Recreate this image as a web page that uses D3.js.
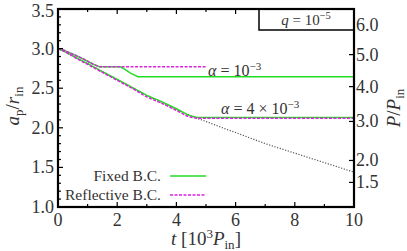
<!DOCTYPE html>
<html><head><meta charset="utf-8">
<script src="https://cdn.jsdelivr.net/npm/d3@7"></script>
<style>
html,body{margin:0;padding:0;background:#fff;}
svg{display:block;font-family:"Liberation Serif","Times New Roman",serif;}
</style></head>
<body><svg id="c" width="407" height="251"></svg>
<script>
// ---- data ----
const fixed1e3 = [[0,3.0],[0.2,2.98],[0.5,2.93],[0.8,2.88],[1.0,2.84],[1.2,2.80],[1.4,2.77],[2.1,2.77],[2.25,2.74],[2.45,2.69],[2.7,2.645],[10,2.645]];
const refl1e3 = [[0,3.0],[0.2,2.98],[0.5,2.93],[0.8,2.88],[1.0,2.84],[1.2,2.80],[1.4,2.77],[5.0,2.77]];
const fixed4e3 = [[0,3.0],[0.3,2.95],[0.6,2.89],[1.0,2.81],[1.5,2.71],[2.0,2.61],[2.5,2.51],[3.0,2.41],[3.5,2.33],[4.0,2.24],[4.4,2.16],[4.7,2.13],[10,2.13]];
const refl4e3 = [[0,3.0],[0.3,2.95],[0.6,2.88],[1.0,2.80],[1.5,2.70],[2.0,2.60],[2.5,2.50],[3.0,2.39],[3.5,2.31],[4.0,2.22],[4.4,2.14],[4.7,2.12],[10,2.12]];
const analytic = [[0,3.0],[1,2.81],[2,2.61],[3,2.41],[4,2.23],[4.7,2.12],[5,2.08],[5.7,1.98],[6,1.94],[7,1.80],[8,1.68],[9,1.56],[10,1.44]];
const xTicks = [0,2,4,6,8,10];
const yTicks = [1.0,1.5,2.0,2.5,3.0,3.5];
const pTicks = [1.5,2.0,3.0,4.0,5.0,6.0];

const svg = d3.select("#c");
const L=58,R=354,T=9,B=207;
const x = d3.scaleLinear().domain([0,10]).range([L,R]);
const y = d3.scaleLinear().domain([1,3.5]).range([B,T]);
const yP = d3.scalePow().exponent(2/3).domain([1,Math.pow(3.5,1.5)]).range([B,T]);

const line = d3.line().x(d=>x(d[0])).y(d=>y(d[1]));
const green="#22dd22", mag="#dd22dd";

svg.append("path").datum(analytic).attr("d",line).attr("fill","none").attr("stroke","#555").attr("stroke-width",1.2).attr("stroke-dasharray","1.2,1.6");
svg.append("path").datum(fixed1e3).attr("d",line).attr("fill","none").attr("stroke",green).attr("stroke-width",1.5);
svg.append("path").datum(fixed4e3).attr("d",line).attr("fill","none").attr("stroke",green).attr("stroke-width",1.5);
svg.append("path").datum(refl1e3).attr("d",line).attr("fill","none").attr("stroke",mag).attr("stroke-width",1.5).attr("stroke-dasharray","3,1.5");
svg.append("path").datum(refl4e3).attr("d",line).attr("fill","none").attr("stroke",mag).attr("stroke-width",1.5).attr("stroke-dasharray","3,1.5");

// axes
const fs = 18;
const ax = svg.append("g").attr("fill","none").attr("stroke","#000");
d3.range(10,36).map(v=>v/10).forEach(v=>{
  const maj = Math.abs(v*2-Math.round(v*2))<1e-6;
  ax.append("line").attr("x1",L).attr("x2",L+(maj?5:3)).attr("y1",y(v)).attr("y2",y(v)).attr("stroke-width",1.2);
});
d3.range(0,11).forEach(v=>{
  const maj = v%2===0;
  ax.append("line").attr("x1",x(v)).attr("x2",x(v)).attr("y1",B).attr("y2",B-(maj?5:3)).attr("stroke-width",1.2);
  ax.append("line").attr("x1",x(v)).attr("x2",x(v)).attr("y1",T).attr("y2",T+(maj?5:3)).attr("stroke-width",1.2);
});
pTicks.forEach(v=>{
  ax.append("line").attr("x1",R).attr("x2",R-5).attr("y1",yP(v)).attr("y2",yP(v)).attr("stroke-width",1.2);
});

const tx = svg.append("g").attr("font-size",fs).attr("fill","#333");
yTicks.forEach(v=>tx.append("text").attr("x",L-4).attr("y",Math.max(y(v)+6,17)).attr("text-anchor","end").text(v.toFixed(1)));
xTicks.forEach(v=>tx.append("text").attr("x",x(v)).attr("y",B+19).attr("text-anchor","middle").text(v));
pTicks.forEach(v=>tx.append("text").attr("x",R+2).attr("y",Math.max(yP(v)+6,17)).attr("text-anchor","start").text(v.toFixed(1)));

// q box
svg.append("rect").attr("x",259).attr("y",T).attr("width",R-259).attr("height",21).attr("fill","#fff").attr("stroke","#000").attr("stroke-width",1.5);
const qt = svg.append("text").attr("x",306).attr("y",25).attr("text-anchor","middle").attr("font-size",15).attr("fill","#333");
qt.append("tspan").attr("font-style","italic").text("q");
qt.append("tspan").text(" = 10");
qt.append("tspan").attr("font-size",10.5).attr("dy",-6).text("−5");

// frame
svg.append("rect").attr("x",L).attr("y",T).attr("width",R-L).attr("height",B-T).attr("fill","none").attr("stroke","#000").attr("stroke-width",2.2);

// annotations
const a1 = svg.append("text").attr("x",208).attr("y",76).attr("font-size",16).attr("fill","#333");
a1.append("tspan").attr("font-style","italic").text("α");
a1.append("tspan").text(" = 10");
a1.append("tspan").attr("font-size",11).attr("dy",-6).text("−3");
const a2 = svg.append("text").attr("x",221).attr("y",114).attr("font-size",16).attr("fill","#333");
a2.append("tspan").attr("font-style","italic").text("α");
a2.append("tspan").text(" = 4 × 10");
a2.append("tspan").attr("font-size",11).attr("dy",-6).text("−3");

// legend
svg.append("text").attr("x",161).attr("y",181).attr("text-anchor","end").attr("font-size",15.5).attr("fill","#333").text("Fixed B.C.");
svg.append("text").attr("x",161).attr("y",200).attr("text-anchor","end").attr("font-size",15.5).attr("fill","#333").text("Reflective B.C.");
svg.append("line").attr("x1",170).attr("x2",206).attr("y1",176).attr("y2",176).attr("stroke",green).attr("stroke-width",1.5);
svg.append("line").attr("x1",170).attr("x2",206).attr("y1",195).attr("y2",195).attr("stroke",mag).attr("stroke-width",1.5).attr("stroke-dasharray","3,1.5");

// axis labels
const yl = svg.append("text").attr("transform","translate(19,106) rotate(-90)").attr("text-anchor","middle").attr("font-size",19).attr("fill","#333");
yl.append("tspan").attr("font-style","italic").text("a");
yl.append("tspan").attr("font-size",13).attr("dy",4).text("p");
yl.append("tspan").attr("dy",-4).text("/");
yl.append("tspan").attr("font-style","italic").text("r");
yl.append("tspan").attr("font-size",13).attr("dy",4).text("in");
const pl = svg.append("text").attr("transform","translate(400,108) rotate(-90)").attr("text-anchor","middle").attr("font-size",19).attr("fill","#333");
pl.append("tspan").attr("font-style","italic").text("P");
pl.append("tspan").text("/");
pl.append("tspan").attr("font-style","italic").text("P");
pl.append("tspan").attr("font-size",13).attr("dy",4).text("in");
const xl = svg.append("text").attr("x",206).attr("y",245).attr("text-anchor","middle").attr("font-size",19).attr("fill","#333");
xl.append("tspan").attr("font-style","italic").text("t");
xl.append("tspan").text(" [10");
xl.append("tspan").attr("font-size",13).attr("dy",-7).text("3");
xl.append("tspan").attr("dy",7).attr("font-style","italic").text("P");
xl.append("tspan").attr("font-size",13).attr("dy",4).text("in");
xl.append("tspan").attr("dy",-4).text("]");
</script></body></html>
